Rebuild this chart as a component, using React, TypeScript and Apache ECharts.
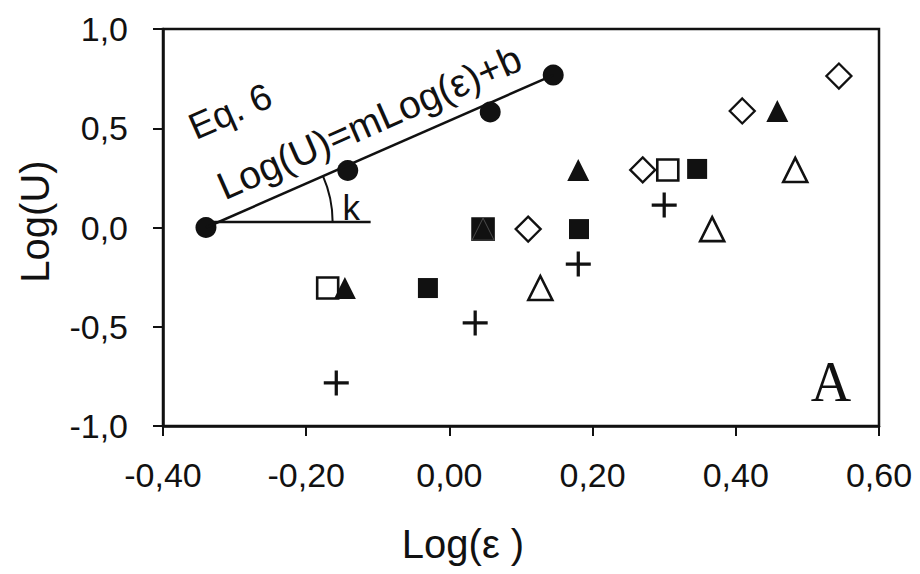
import React, { useEffect, useRef } from "react";
import * as echarts from "echarts";

// Axis ranges and tick labels (decimal comma)
const xMin = -0.4;
const xMax = 0.6;
const xStep = 0.2;
const yMin = -1;
const yMax = 1;
const yStep = 0.5;
const xTickLabels = ["-0,40", "-0,20", "0,00", "0,20", "0,40", "0,60"];
const yTickLabels = ["-1,0", "-0,5", "0,0", "0,5", "1,0"];

// Measured points: [Log(ε), Log(U)]
const eqPoints = [
  [-0.34, 0.0],
  [-0.142, 0.287],
  [0.057, 0.582],
  [0.145, 0.768],
];
const fitLine = [
  [-0.34, 0.0],
  [0.145, 0.768],
];
const baseLine = [
  [-0.33, 0.028],
  [-0.11, 0.028],
];
const openSquares = [
  [-0.17, -0.305],
  [0.047, -0.008],
  [0.305, 0.29],
];
const filledSquares = [
  [-0.03, -0.305],
  [0.047, -0.008],
  [0.181, -0.008],
  [0.346, 0.295],
];
const filledTriangles = [
  [-0.146, -0.305],
  [0.047, -0.008],
  [0.18, 0.29],
  [0.458, 0.587],
];
const openTriangles = [
  [0.127, -0.305],
  [0.367, -0.008],
  [0.483, 0.29],
];
const openDiamonds = [
  [0.11, -0.008],
  [0.27, 0.29],
  [0.409, 0.587],
  [0.544, 0.763],
];
const pluses = [
  [-0.158, -0.783],
  [0.036, -0.481],
  [0.18, -0.184],
  [0.3, 0.113],
];

// Annotation anchors in data units
const eqLabelAt = [-0.306, 0.585];
const formulaAt = [-0.112, 0.53];
const kLabelAt = [-0.137, 0.103];
const panelLabelAt = [0.533, -0.778];

const INK = "#111";
const SANS = "'Liberation Sans', Arial, sans-serif";
const PLUS_PATH = "path://M0,4.35H10V5.65H0Z M4.35,0H5.65V10H4.35Z";

const sameSpot = (a: number[], b: number[]) =>
  Math.abs(a[0] - b[0]) < 1e-9 && Math.abs(a[1] - b[1]) < 1e-9;

export default function App() {
  const ref = useRef<HTMLDivElement>(null);

  useEffect(() => {
    const el = ref.current;
    if (!el) return;
    const chart = echarts.init(el, null, { renderer: "svg" });

    const axisCommon = {
      type: "value",
      nameLocation: "middle",
      axisLine: { show: true, onZero: false, lineStyle: { color: INK, width: 2.5 } },
      axisTick: { show: true, inside: false, length: 10, lineStyle: { color: INK, width: 2 } },
      splitLine: { show: false },
    };

    // a filled triangle sitting on a filled square keeps a faint outline
    const triData = filledTriangles.map((p) =>
      filledSquares.some((q) => sameSpot(p, q))
        ? { value: p, itemStyle: { borderColor: "#5a5a5a", borderWidth: 0.8 } }
        : { value: p }
    );

    const solid = { color: INK, opacity: 1 };
    const hollow = (w: number) => ({ color: "#fff", borderColor: INK, borderWidth: w, opacity: 1 });

    chart.setOption({
      animation: false,
      backgroundColor: "#fff",
      grid: {
        left: 163,
        top: 29,
        right: 41,
        bottom: 148,
        show: true,
        borderColor: INK,
        borderWidth: 2.5,
        outerBoundsMode: "none",
      },
      xAxis: {
        ...axisCommon,
        min: xMin,
        max: xMax,
        interval: xStep,
        name: "Log(ε )",
        nameGap: 98,
        nameTextStyle: { fontSize: 40, color: INK, fontFamily: SANS, padding: [0, 116, 0, 0] },
        axisLabel: {
          fontSize: 34,
          margin: 32,
          color: INK,
          fontFamily: SANS,
          formatter: (v: number) => xTickLabels[Math.round((v - xMin) / xStep)] ?? "",
        },
      },
      yAxis: {
        ...axisCommon,
        min: yMin,
        max: yMax,
        interval: yStep,
        name: "Log(U)",
        nameGap: 108,
        nameTextStyle: { fontSize: 40, color: INK, fontFamily: SANS, padding: [0, 0, 0, 12] },
        axisLabel: {
          fontSize: 34,
          margin: 35,
          color: INK,
          fontFamily: SANS,
          formatter: (v: number) => yTickLabels[Math.round((v - yMin) / yStep)] ?? "",
        },
      },
      series: [
        {
          type: "line",
          data: fitLine,
          symbol: "none",
          lineStyle: { color: INK, width: 2.5 },
        },
        {
          type: "line",
          data: baseLine,
          symbol: "none",
          lineStyle: { color: INK, width: 2.5 },
        },
        {
          type: "scatter",
          data: openSquares,
          symbol: "rect",
          symbolSize: 21,
          itemStyle: hollow(2.6),
        },
        {
          type: "scatter",
          data: filledSquares,
          symbol: "rect",
          symbolSize: 20,
          itemStyle: solid,
        },
        {
          type: "scatter",
          data: triData,
          symbol: "triangle",
          symbolSize: 22,
          itemStyle: solid,
        },
        {
          type: "scatter",
          data: openTriangles,
          symbol: "triangle",
          symbolSize: 24,
          itemStyle: hollow(2.6),
        },
        {
          type: "scatter",
          data: openDiamonds,
          symbol: "diamond",
          symbolSize: 25,
          itemStyle: hollow(2.3),
        },
        {
          type: "scatter",
          data: pluses,
          symbol: PLUS_PATH,
          symbolSize: 25,
          itemStyle: solid,
        },
        {
          type: "scatter",
          data: eqPoints,
          symbol: "circle",
          symbolSize: 21,
          itemStyle: solid,
        },
      ],
    });

    const px = (p: number[]) => chart.convertToPixel({ gridIndex: 0 }, p) as number[];

    // angle k between the fitted line and the horizontal reference
    const [a, b] = fitLine;
    const yRef = baseLine[0][1];
    const xCross = a[0] + ((yRef - a[1]) * (b[0] - a[0])) / (b[1] - a[1]);
    const c = px([xCross, yRef]);
    const pa = px(a);
    const pb = px(b);
    const ang = Math.atan2(pb[1] - pa[1], pb[0] - pa[0]);

    const textAt = (p: number[], text: string, font: string, rot: number) => {
      const q = px(p);
      return {
        type: "text",
        x: q[0],
        y: q[1],
        rotation: rot,
        style: { text, font, fill: INK, align: "center", verticalAlign: "middle" },
        z: 10,
      };
    };

    chart.setOption({
      graphic: [
        {
          type: "arc",
          shape: { cx: c[0], cy: c[1], r: 114, startAngle: ang, endAngle: 0, clockwise: true },
          style: { stroke: INK, lineWidth: 2, fill: "none" },
          z: 10,
        },
        textAt(eqLabelAt, "Eq. 6", `37px ${SANS}`, -ang),
        textAt(formulaAt, "Log(U)=mLog(ε)+b", `39px ${SANS}`, -ang),
        textAt(kLabelAt, "k", `35px ${SANS}`, 0),
        textAt(panelLabelAt, "A", `56px 'Liberation Serif', 'Times New Roman', serif`, 0),
      ],
    });

    return () => chart.dispose();
  }, []);

  return (
    <div
      ref={ref}
      style={{ position: "fixed", left: 0, top: 0, width: 920, height: 574, background: "#fff" }}
    />
  );
}
